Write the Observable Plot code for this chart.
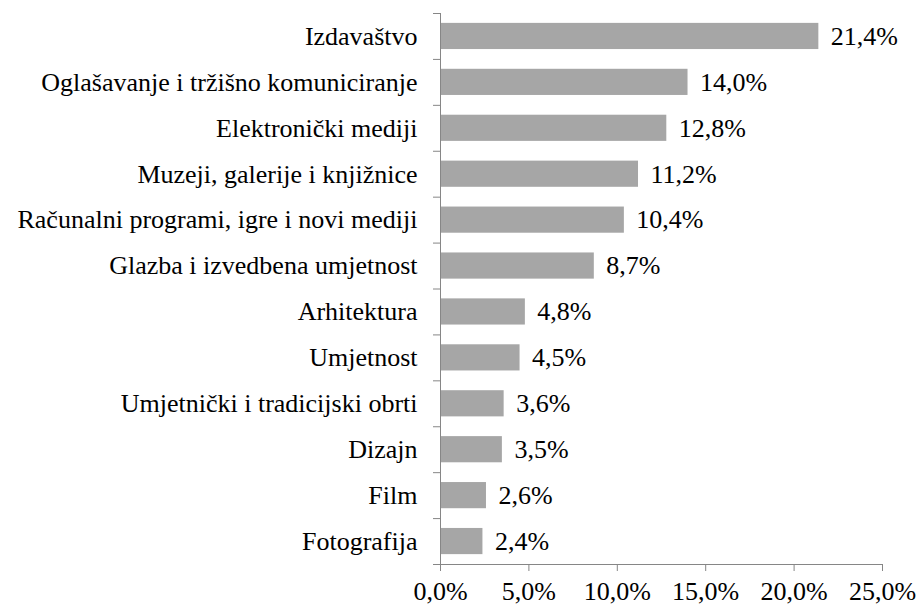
<!DOCTYPE html>
<html>
<head>
<meta charset="utf-8">
<script src="https://cdn.jsdelivr.net/npm/d3@7"></script>
<script src="https://cdn.jsdelivr.net/npm/@observablehq/plot@0.6"></script>
<style>
  html, body { margin: 0; padding: 0; background: #fff; }
  #chart svg { display: block; font-family: "Times New Roman", "Liberation Serif", Times, "DejaVu Serif", serif !important; }
  #chart svg text, #chart svg g { font-family: "Times New Roman", "Liberation Serif", Times, "DejaVu Serif", serif !important; }
</style>
</head>
<body>
<div id="chart"></div>
<script>
const categories = [
  "Izdavaštvo",
  "Oglašavanje i tržišno komuniciranje",
  "Elektronički mediji",
  "Muzeji, galerije i knjižnice",
  "Računalni programi, igre i novi mediji",
  "Glazba i izvedbena umjetnost",
  "Arhitektura",
  "Umjetnost",
  "Umjetnički i tradicijski obrti",
  "Dizajn",
  "Film",
  "Fotografija"
];
const values = [21.4, 14.0, 12.8, 11.2, 10.4, 8.7, 4.8, 4.5, 3.6, 3.5, 2.6, 2.4];
const xTicks = [0, 5, 10, 15, 20, 25];

const data = categories.map((c, i) => ({category: c, value: values[i]}));
const fmt = v => v.toFixed(1).replace(".", ",") + "%";

const W = 920, H = 606, MT = 13, MB = 42, ML = 440, MR = 38;
const step = (H - MT - MB) / categories.length;
const tickLen = 7 / ((W - ML - MR) / 25);
const FONT = "Times New Roman, Liberation Serif, Times, DejaVu Serif, serif";

const chart = Plot.plot({
  width: W,
  height: H,
  marginTop: MT,
  marginBottom: MB,
  marginLeft: ML,
  marginRight: MR,
  style: {fontFamily: FONT, fontSize: "26px", color: "#000", background: "#fff"},
  x: {domain: [0, 25]},
  y: {domain: categories, paddingInner: 0.43, paddingOuter: 0.215, round: false, label: null},
  marks: [
    Plot.barX(data, {y: "category", x: "value", fill: "#a6a6a6"}),
    Plot.text(data, {y: "category", x: "value", text: d => fmt(d.value), textAnchor: "start", dx: 12, fill: "#000", fontSize: 26, fontFamily: FONT}),
    Plot.ruleX([0], {stroke: "#868686"}),
    Plot.axisY({tickSize: 0, tickPadding: 23, label: null, fontSize: 26, fontFamily: FONT, fill: "#000"}),
    Plot.axisY({text: null, tickSize: 7, dy: -step / 2, stroke: "#868686", label: null}),
    Plot.ruleY([categories[categories.length - 1]], {x1: -tickLen, x2: 25, dy: step / 2, stroke: "#868686"}),
    Plot.axisX({ticks: xTicks, tickFormat: fmt, tickSize: 7, tickPadding: 10, label: null, fontSize: 26, fontFamily: FONT, stroke: "#868686", fill: "#000"})
  ]
});
document.getElementById("chart").appendChild(chart);
</script>
</body>
</html>
